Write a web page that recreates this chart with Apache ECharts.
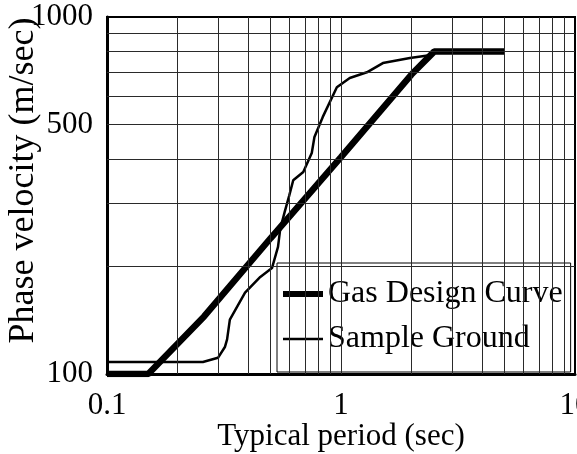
<!DOCTYPE html>
<html>
<head>
<meta charset="utf-8">
<script src="https://cdn.jsdelivr.net/npm/echarts@6/dist/echarts.min.js"></script>
<style>
  html, body { margin: 0; padding: 0; background: #fff; }
  #chart { width: 577px; height: 454px; }
</style>
</head>
<body>
<div id="chart"></div>
<script>
// Gas design curve — thick straight line in log-log
const gasPeriod = [0.1, 0.15, 0.26, 0.5, 1, 2, 2.5, 5];
const gasVel    = [100, 100, 145, 240, 405, 690, 800, 800];

// Sample ground — thin measured curve
const samplePeriod = [0.1, 0.257, 0.298, 0.319, 0.326, 0.335, 0.389, 0.452, 0.507, 0.538, 0.55, 0.575,
  0.6, 0.625, 0.69, 0.75, 0.77, 0.836, 0.96, 1.09, 1.29, 1.51, 1.97, 2.39, 2.57];
const sampleVel = [108, 108, 111, 119, 125, 142, 169, 187, 198, 227, 255, 285,
  315, 349, 368, 416, 461, 525, 636, 675, 700, 743, 768, 781, 798];

// grid lines and tick labels
const xGrid = [0.2, 0.3, 0.4, 0.5, 0.6, 0.7, 0.8, 0.9, 1, 2, 3, 4, 5, 6, 7, 8, 9];
const yGrid = [200, 300, 400, 500, 600, 700, 800, 900];
const yLabels = [100, 500, 1000];

const font = '"Liberation Serif", "Times New Roman", serif';
const zip = (xs, ys) => xs.map((x, i) => [x, ys[i]]);

const chart = echarts.init(document.getElementById('chart'));
chart.setOption({
  animation: false,
  backgroundColor: '#fff',
  textStyle: { fontFamily: font, color: '#000' },
  grid: {
    left: 107, right: 2, top: 17, bottom: 80,
    containLabel: false, outerBoundsMode: 'none',
    show: true, borderColor: '#000', borderWidth: 2,
  },
  xAxis: {
    type: 'log',
    logBase: 10,
    min: 0.1,
    max: 10,
    name: 'Typical period (sec)',
    nameLocation: 'middle',
    nameGap: 47,
    nameMoveOverlap: false,
    nameTextStyle: { fontFamily: font, fontSize: 31, color: '#000' },
    axisLine: { show: true, lineStyle: { color: '#000', width: 3 } },
    axisTick: { show: false },
    splitLine: { show: false },
    axisLabel: { fontFamily: font, fontSize: 31, color: '#000', margin: 16, formatter: (v) => String(v) },
  },
  yAxis: {
    type: 'log',
    logBase: 10,
    min: 100,
    max: 1000,
    name: 'Phase velocity (m/sec)',
    nameLocation: 'middle',
    nameGap: 65,
    nameMoveOverlap: false,
    nameTextStyle: { fontFamily: font, fontSize: 36, color: '#000', padding: [0, 0, 0, 30] },
    axisLine: { show: true, lineStyle: { color: '#000', width: 3 } },
    axisTick: { show: false },
    splitLine: { show: false },
    axisLabel: { fontFamily: font, fontSize: 31, color: '#000', margin: 14, customValues: yLabels, formatter: (v) => String(v) },
  },
  legend: {
    left: 277,
    top: 263,
    orient: 'vertical',
    backgroundColor: '#fff',
    borderColor: '#000',
    borderWidth: 1,
    borderRadius: 0,
    padding: [15, 8, 17, 6],
    itemWidth: 40,
    itemHeight: 14,
    itemGap: 13,
    textStyle: { fontFamily: font, fontSize: 32, color: '#000' },
    data: [
      { name: 'Gas Design Curve', icon: 'path://M0,0h40v6h-40z' },
      { name: 'Sample Ground', icon: 'path://M0,0h40v2.5h-40z' },
    ],
  },
  series: [
    {
      name: 'grid',
      type: 'line',
      data: [],
      silent: true,
      markLine: {
        symbol: 'none',
        silent: true,
        label: { show: false },
        lineStyle: { color: '#2a2a2a', width: 1, type: 'solid' },
        data: xGrid.map((v) => ({ xAxis: v })).concat(yGrid.map((v) => ({ yAxis: v }))),
      },
      z: 1,
    },
    {
      name: 'Sample Ground',
      type: 'line',
      data: zip(samplePeriod, sampleVel),
      symbol: 'none',
      lineStyle: { color: '#000', width: 2.5 },
      itemStyle: { color: '#000' },
      z: 3,
    },
    {
      name: 'Gas Design Curve',
      type: 'line',
      data: zip(gasPeriod, gasVel),
      symbol: 'none',
      lineStyle: { color: '#000', width: 6.5 },
      itemStyle: { color: '#000' },
      z: 4,
    },
  ],
});
</script>
</body>
</html>
